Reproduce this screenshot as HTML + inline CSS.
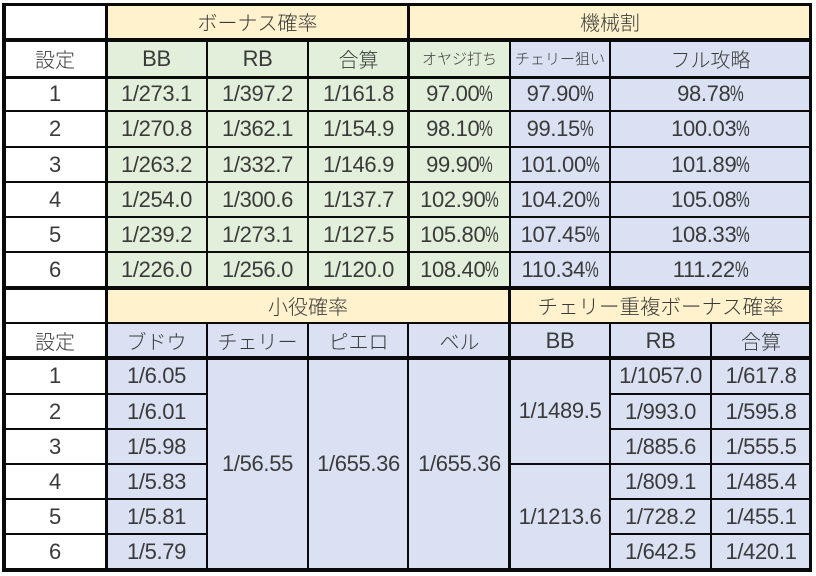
<!DOCTYPE html>
<html><head><meta charset="utf-8">
<style>
html,body{margin:0;padding:0;background:#fff;}
body{width:816px;height:576px;position:relative;overflow:hidden;}
.c{position:absolute;display:flex;align-items:center;justify-content:center;font-family:"Liberation Sans","Noto Sans CJK JP",sans-serif;font-size:22px;letter-spacing:-0.35px;color:#3a3a3a;line-height:1;white-space:nowrap;}
.j{font-family:"Noto Sans CJK JP","Liberation Sans",sans-serif;font-size:20px;font-weight:300;letter-spacing:0;}
.s{font-size:15px;}
.w{background:#fff}.y{background:#FFF2CC}.g{background:#E2EFDA}.b{background:#D9E1F2}
.p{display:inline-block;width:13.5px;transform:scaleX(.7);transform-origin:left center;}
.l{position:absolute;background:#0a0a0a;}
</style></head><body>
<!-- TOP SECTION -->
<div class="c w" style="left:4px;top:4px;width:102px;height:36px"></div>
<div class="c y j" style="left:106px;top:4px;width:303px;height:36px">ボーナス確率</div>
<div class="c y j" style="left:409px;top:4px;width:402px;height:36px">機械割</div>

<div class="c w j" style="left:4px;top:40px;width:102px;height:37px">設定</div>
<div class="c g" style="left:106px;top:40px;width:101px;height:37px">BB</div>
<div class="c g" style="left:207px;top:40px;width:101px;height:37px">RB</div>
<div class="c g j" style="left:308px;top:40px;width:101px;height:37px">合算</div>
<div class="c g j s" style="left:409px;top:40px;width:101px;height:37px">オヤジ打ち</div>
<div class="c b j s" style="left:510px;top:40px;width:100px;height:37px">チェリー狙い</div>
<div class="c b j" style="left:610px;top:40px;width:201px;height:37px">フル攻略</div>

<!-- row 1 -->
<div class="c w" style="left:4px;top:77px;width:102px;height:34px">1</div>
<div class="c g" style="left:106px;top:77px;width:101px;height:34px">1/273.1</div>
<div class="c g" style="left:207px;top:77px;width:101px;height:34px">1/397.2</div>
<div class="c g" style="left:308px;top:77px;width:101px;height:34px">1/161.8</div>
<div class="c g" style="left:409px;top:77px;width:101px;height:34px">97.00<span class="p">%</span></div>
<div class="c b" style="left:510px;top:77px;width:100px;height:34px">97.90<span class="p">%</span></div>
<div class="c b" style="left:610px;top:77px;width:201px;height:34px">98.78<span class="p">%</span></div>
<!-- row 2 -->
<div class="c w" style="left:4px;top:111px;width:102px;height:36px">2</div>
<div class="c g" style="left:106px;top:111px;width:101px;height:36px">1/270.8</div>
<div class="c g" style="left:207px;top:111px;width:101px;height:36px">1/362.1</div>
<div class="c g" style="left:308px;top:111px;width:101px;height:36px">1/154.9</div>
<div class="c g" style="left:409px;top:111px;width:101px;height:36px">98.10<span class="p">%</span></div>
<div class="c b" style="left:510px;top:111px;width:100px;height:36px">99.15<span class="p">%</span></div>
<div class="c b" style="left:610px;top:111px;width:201px;height:36px">100.03<span class="p">%</span></div>
<!-- row 3 -->
<div class="c w" style="left:4px;top:147px;width:102px;height:35px">3</div>
<div class="c g" style="left:106px;top:147px;width:101px;height:35px">1/263.2</div>
<div class="c g" style="left:207px;top:147px;width:101px;height:35px">1/332.7</div>
<div class="c g" style="left:308px;top:147px;width:101px;height:35px">1/146.9</div>
<div class="c g" style="left:409px;top:147px;width:101px;height:35px">99.90<span class="p">%</span></div>
<div class="c b" style="left:510px;top:147px;width:100px;height:35px">101.00<span class="p">%</span></div>
<div class="c b" style="left:610px;top:147px;width:201px;height:35px">101.89<span class="p">%</span></div>
<!-- row 4 -->
<div class="c w" style="left:4px;top:182px;width:102px;height:35px">4</div>
<div class="c g" style="left:106px;top:182px;width:101px;height:35px">1/254.0</div>
<div class="c g" style="left:207px;top:182px;width:101px;height:35px">1/300.6</div>
<div class="c g" style="left:308px;top:182px;width:101px;height:35px">1/137.7</div>
<div class="c g" style="left:409px;top:182px;width:101px;height:35px">102.90<span class="p">%</span></div>
<div class="c b" style="left:510px;top:182px;width:100px;height:35px">104.20<span class="p">%</span></div>
<div class="c b" style="left:610px;top:182px;width:201px;height:35px">105.08<span class="p">%</span></div>
<!-- row 5 -->
<div class="c w" style="left:4px;top:217px;width:102px;height:35px">5</div>
<div class="c g" style="left:106px;top:217px;width:101px;height:35px">1/239.2</div>
<div class="c g" style="left:207px;top:217px;width:101px;height:35px">1/273.1</div>
<div class="c g" style="left:308px;top:217px;width:101px;height:35px">1/127.5</div>
<div class="c g" style="left:409px;top:217px;width:101px;height:35px">105.80<span class="p">%</span></div>
<div class="c b" style="left:510px;top:217px;width:100px;height:35px">107.45<span class="p">%</span></div>
<div class="c b" style="left:610px;top:217px;width:201px;height:35px">108.33<span class="p">%</span></div>
<!-- row 6 -->
<div class="c w" style="left:4px;top:252px;width:102px;height:35px">6</div>
<div class="c g" style="left:106px;top:252px;width:101px;height:35px">1/226.0</div>
<div class="c g" style="left:207px;top:252px;width:101px;height:35px">1/256.0</div>
<div class="c g" style="left:308px;top:252px;width:101px;height:35px">1/120.0</div>
<div class="c g" style="left:409px;top:252px;width:101px;height:35px">108.40<span class="p">%</span></div>
<div class="c b" style="left:510px;top:252px;width:100px;height:35px">110.34<span class="p">%</span></div>
<div class="c b" style="left:610px;top:252px;width:201px;height:35px">111.22<span class="p">%</span></div>

<!-- LOWER SECTION -->
<div class="c w" style="left:4px;top:288px;width:102px;height:35px"></div>
<div class="c y j" style="left:106px;top:288px;width:404px;height:35px">小役確率</div>
<div class="c y j" style="left:510px;top:288px;width:301px;height:35px;font-size:20.5px">チェリー重複ボーナス確率</div>

<div class="c w j" style="left:4px;top:323px;width:102px;height:35px">設定</div>
<div class="c b j" style="left:106px;top:323px;width:101px;height:35px">ブドウ</div>
<div class="c b j" style="left:207px;top:323px;width:101px;height:35px">チェリー</div>
<div class="c b j" style="left:308px;top:323px;width:101px;height:35px">ピエロ</div>
<div class="c b j" style="left:409px;top:323px;width:101px;height:35px">ベル</div>
<div class="c b" style="left:510px;top:323px;width:100px;height:35px">BB</div>
<div class="c b" style="left:610px;top:323px;width:101px;height:35px">RB</div>
<div class="c b j" style="left:711px;top:323px;width:100px;height:35px">合算</div>

<div class="c w" style="left:4px;top:358px;width:102px;height:36px">1</div>
<div class="c w" style="left:4px;top:394px;width:102px;height:35px">2</div>
<div class="c w" style="left:4px;top:429px;width:102px;height:35px">3</div>
<div class="c w" style="left:4px;top:464px;width:102px;height:35px">4</div>
<div class="c w" style="left:4px;top:499px;width:102px;height:35px">5</div>
<div class="c w" style="left:4px;top:534px;width:102px;height:36px">6</div>

<div class="c b" style="left:106px;top:358px;width:101px;height:36px">1/6.05</div>
<div class="c b" style="left:106px;top:394px;width:101px;height:35px">1/6.01</div>
<div class="c b" style="left:106px;top:429px;width:101px;height:35px">1/5.98</div>
<div class="c b" style="left:106px;top:464px;width:101px;height:35px">1/5.83</div>
<div class="c b" style="left:106px;top:499px;width:101px;height:35px">1/5.81</div>
<div class="c b" style="left:106px;top:534px;width:101px;height:36px">1/5.79</div>

<div class="c b" style="left:207px;top:358px;width:101px;height:212px">1/56.55</div>
<div class="c b" style="left:308px;top:358px;width:101px;height:212px">1/655.36</div>
<div class="c b" style="left:409px;top:358px;width:101px;height:212px">1/655.36</div>

<div class="c b" style="left:510px;top:358px;width:100px;height:106px">1/1489.5</div>
<div class="c b" style="left:510px;top:464px;width:100px;height:106px">1/1213.6</div>

<div class="c b" style="left:610px;top:358px;width:101px;height:36px">1/1057.0</div>
<div class="c b" style="left:610px;top:394px;width:101px;height:35px">1/993.0</div>
<div class="c b" style="left:610px;top:429px;width:101px;height:35px">1/885.6</div>
<div class="c b" style="left:610px;top:464px;width:101px;height:35px">1/809.1</div>
<div class="c b" style="left:610px;top:499px;width:101px;height:35px">1/728.2</div>
<div class="c b" style="left:610px;top:534px;width:101px;height:36px">1/642.5</div>

<div class="c b" style="left:711px;top:358px;width:100px;height:36px">1/617.8</div>
<div class="c b" style="left:711px;top:394px;width:100px;height:35px">1/595.8</div>
<div class="c b" style="left:711px;top:429px;width:100px;height:35px">1/555.5</div>
<div class="c b" style="left:711px;top:464px;width:100px;height:35px">1/485.4</div>
<div class="c b" style="left:711px;top:499px;width:100px;height:35px">1/455.1</div>
<div class="c b" style="left:711px;top:534px;width:100px;height:36px">1/420.1</div>

<!-- LINES: vertical -->
<div class="l" style="left:2px;top:3px;width:4px;height:569px"></div>
<div class="l" style="left:105px;top:3px;width:3px;height:569px"></div>
<div class="l" style="left:206px;top:40px;width:2px;height:248px"></div>
<div class="l" style="left:206px;top:323px;width:2px;height:247px"></div>
<div class="l" style="left:307px;top:40px;width:2px;height:248px"></div>
<div class="l" style="left:307px;top:323px;width:2px;height:247px"></div>
<div class="l" style="left:407px;top:3px;width:3px;height:285px"></div>
<div class="l" style="left:407px;top:323px;width:2px;height:247px"></div>
<div class="l" style="left:509px;top:40px;width:2px;height:248px"></div>
<div class="l" style="left:508px;top:288px;width:3px;height:282px"></div>
<div class="l" style="left:609px;top:40px;width:2px;height:248px"></div>
<div class="l" style="left:609px;top:323px;width:2px;height:247px"></div>
<div class="l" style="left:710px;top:323px;width:2px;height:247px"></div>
<div class="l" style="left:809px;top:3px;width:3px;height:569px"></div>

<!-- LINES: horizontal -->
<div class="l" style="left:2px;top:3px;width:810px;height:3px"></div>
<div class="l" style="left:2px;top:38px;width:810px;height:4px"></div>
<div class="l" style="left:2px;top:76px;width:810px;height:3px"></div>
<div class="l" style="left:2px;top:110px;width:810px;height:2px"></div>
<div class="l" style="left:2px;top:146px;width:810px;height:2px"></div>
<div class="l" style="left:2px;top:181px;width:810px;height:2px"></div>
<div class="l" style="left:2px;top:216px;width:810px;height:2px"></div>
<div class="l" style="left:2px;top:251px;width:810px;height:2px"></div>
<div class="l" style="left:2px;top:286px;width:810px;height:4px"></div>
<div class="l" style="left:2px;top:322px;width:810px;height:2px"></div>
<div class="l" style="left:2px;top:356px;width:810px;height:4px"></div>

<div class="l" style="left:2px;top:393px;width:205px;height:2px"></div>
<div class="l" style="left:610px;top:393px;width:202px;height:2px"></div>
<div class="l" style="left:2px;top:428px;width:205px;height:2px"></div>
<div class="l" style="left:610px;top:428px;width:202px;height:2px"></div>
<div class="l" style="left:2px;top:463px;width:205px;height:2px"></div>
<div class="l" style="left:510px;top:463px;width:302px;height:2px"></div>
<div class="l" style="left:2px;top:498px;width:205px;height:2px"></div>
<div class="l" style="left:610px;top:498px;width:202px;height:2px"></div>
<div class="l" style="left:2px;top:533px;width:205px;height:2px"></div>
<div class="l" style="left:610px;top:533px;width:202px;height:2px"></div>

<div class="l" style="left:2px;top:568px;width:810px;height:4px"></div>
</body></html>
